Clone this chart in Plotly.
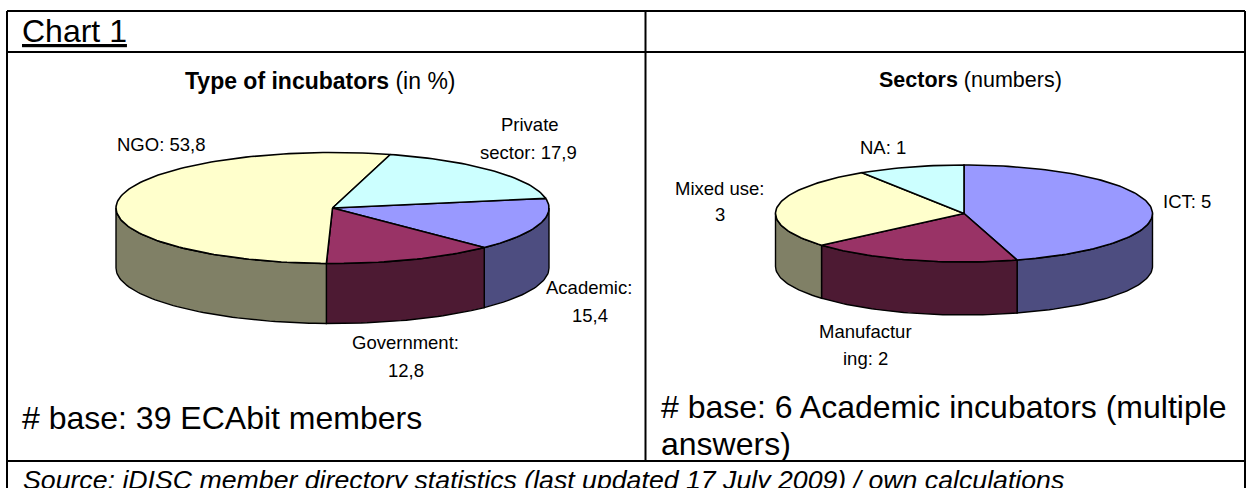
import math
import plotly.graph_objects as go

W, H = 1247, 488

# ---- data ----
left_categories = ["Academic", "Government", "NGO", "Private sector"]
left_values = [15.4, 12.8, 53.8, 17.9]
right_categories = ["ICT", "Manufacturing", "Mixed use", "NA"]
right_values = [5, 2, 3, 1]

top_colors = ["#9999FF", "#993366", "#FFFFCC", "#CCFFFF"]
side_colors = ["#4D4D80", "#4D1A33", "#808066", "#668080"]

FONT = "Liberation Sans"
LINE = "#000000"


def arc(t0, t1, dy=0.0, step=1.5):
    n = max(2, int(abs(t1 - t0) / step) + 1)
    ts = [t0 + (t1 - t0) * i / (n - 1) for i in range(n)]
    return [math.cos(math.radians(t)) for t in ts], [math.sin(math.radians(t)) - dy for t in ts]


def add_pie(fig, names, values, start, cx, cy, a, b, h, axis):
    """Draw a tilted pie with side walls on its own pair of axes (unit-circle data space)."""
    depth = h / b
    pad = 1.04
    xa = "xaxis" if axis == 1 else f"xaxis{axis}"
    ya = "yaxis" if axis == 1 else f"yaxis{axis}"
    xr = "x" if axis == 1 else f"x{axis}"
    yr = "y" if axis == 1 else f"y{axis}"
    fig.update_layout({
        xa: dict(domain=[(cx - a * pad) / W, (cx + a * pad) / W], range=[-pad, pad], visible=False, fixedrange=True),
        ya: dict(domain=[1 - (cy + b * (depth + pad)) / H, 1 - (cy - b * pad) / H],
                 range=[-depth - pad, pad], visible=False, fixedrange=True),
    })
    total = sum(values)
    t = start
    spans = []
    for v in values:
        t2 = t - v / total * 360
        spans.append((t, t2))
        t = t2
    # side walls: only the part of each slice facing the viewer (sin < 0)
    for (t0, t1), col, name in zip(spans, side_colors, names):
        for shift in (0, -360, 360):
            s0, s1 = t0 + shift, t1 + shift
            hi = min(s0, 360)
            lo = max(s1, 180)
            if hi <= lo:
                continue
            x1, y1 = arc(hi, lo)
            x2, y2 = arc(lo, hi, depth)
            fig.add_trace(go.Scatter(
                x=x1 + x2 + x1[:1], y=y1 + y2 + y1[:1], mode="lines", fill="toself", fillcolor=col,
                line=dict(color=LINE, width=1.4), xaxis=xr, yaxis=yr, hoverinfo="skip", showlegend=False, name=name))
    # top faces
    for (t0, t1), col, name in zip(spans, top_colors, names):
        xs, ys = arc(t0, t1)
        fig.add_trace(go.Scatter(
            x=[0] + xs + [0], y=[0] + ys + [0], mode="lines", fill="toself", fillcolor=col,
            line=dict(color=LINE, width=1.6), xaxis=xr, yaxis=yr, hoverinfo="text", text=name,
            showlegend=False, name=name))


fig = go.Figure()
add_pie(fig, left_categories, left_values, 10, 332.5, 208, 216.5, 55.5, 60, 1)
add_pie(fig, right_categories, right_values, 90, 964, 213.5, 188.5, 48.5, 53, 2)


def px(x):
    return x / W


def py(y):
    return 1 - y / H


def text(s, x, y, size, anchor="center"):
    fig.add_annotation(text=s, x=px(x), y=py(y), xref="paper", yref="paper", xanchor=anchor, yanchor="middle",
                       showarrow=False, align=anchor, borderpad=0, xshift=0, font=dict(family=FONT, size=size, color="#000000"))


text("<u>Chart 1</u>", 21, 31, 32, "left")
text("<b>Type of incubators</b> (in %)", 320, 81, 23)
text("<b>Sectors</b> (numbers)", 970, 80, 21.5)

LBL = 18.5
text("NGO: 53,8", 161, 144, LBL)
text("Private", 529.5, 125, LBL)
text("sector: 17,9", 528.5, 152, LBL)
text("Academic:", 589, 287, LBL)
text("15,4", 590, 315, LBL)
text("Government:", 405, 342, LBL)
text("12,8", 406, 370, LBL)

text("NA: 1", 883, 147, LBL)
text("Mixed use:", 719.5, 188, LBL)
text("3", 720, 214, LBL)
text("ICT: 5", 1187, 202, LBL)
text("Manufactur", 865, 331, LBL)
text("ing: 2", 865, 358, LBL)

text("# base: 39 ECAbit members", 21, 418, 32, "left")
text("# base: 6 Academic incubators (multiple", 660, 407, 32, "left")
text("answers)", 660, 444, 32, "left")
text("<i>Source: iDISC member directory statistics (last updated 17 July 2009) / own calculations</i>", 22, 480, 26.7, "left")

# table rules
rules = [
    (7, 11, 1245, 11), (7, 52, 1245, 52), (7, 461, 1245, 461),
    (7, 11, 7, 488), (1245, 11, 1245, 488), (645.5, 11, 645.5, 461),
]
for x0, y0, x1, y1 in rules:
    fig.add_shape(type="line", xref="paper", yref="paper", x0=px(x0), y0=py(y0), x1=px(x1), y1=py(y1),
                  line=dict(color="#000000", width=2))

fig.update_layout(width=W, height=H, margin=dict(l=0, r=0, t=0, b=0), paper_bgcolor="white",
                  plot_bgcolor="white", showlegend=False)
fig.write_html("out.html", config=dict(displayModeBar=False),
               post_script="document.body.style.margin='0';document.body.style.overflow='hidden';")
